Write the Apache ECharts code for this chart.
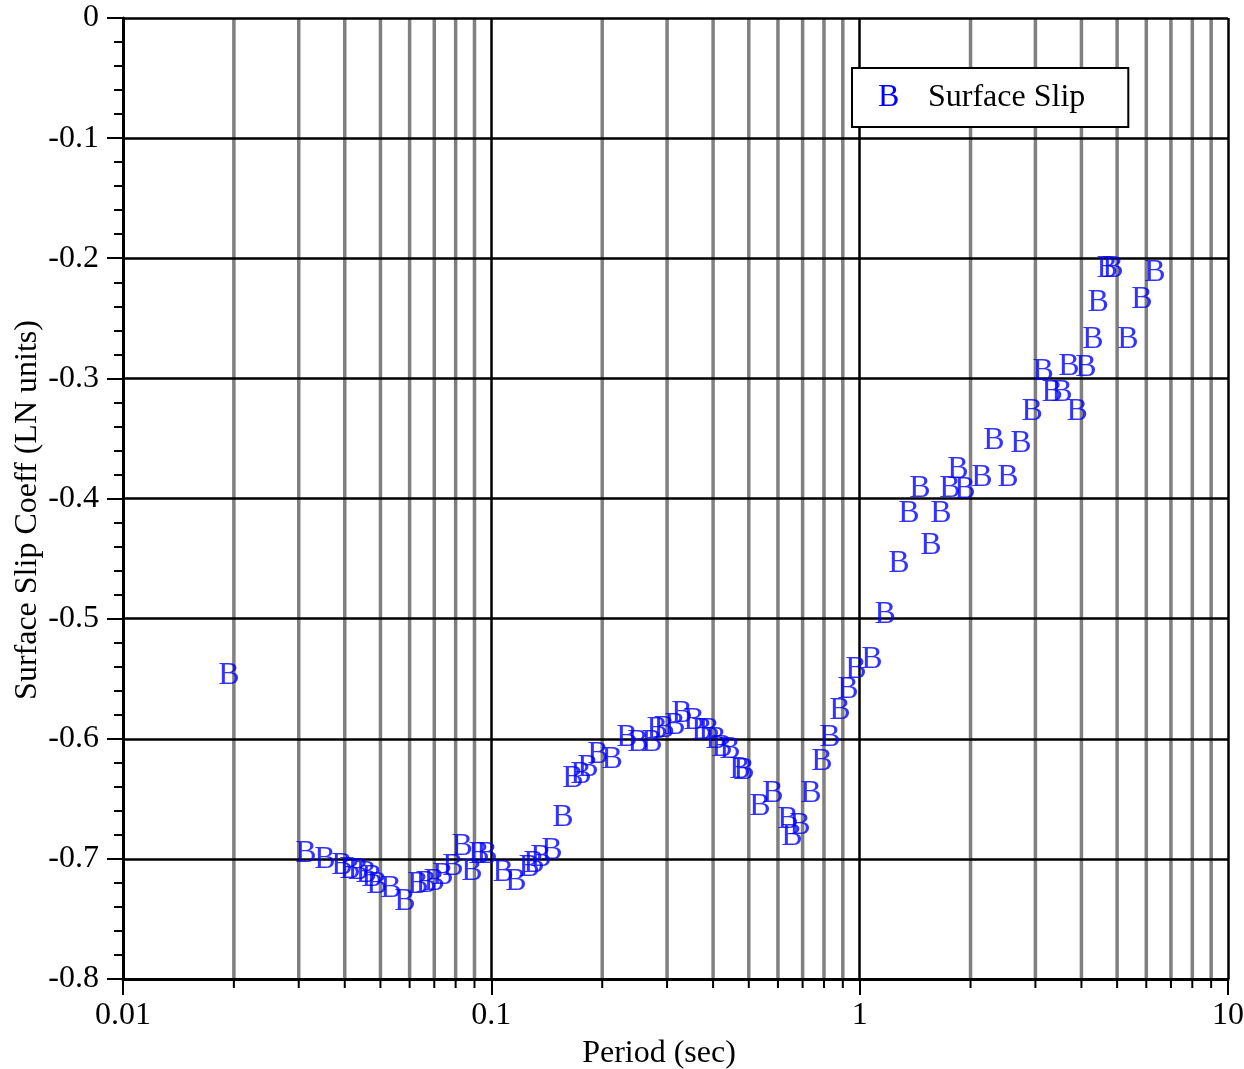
<!DOCTYPE html>
<html>
<head>
<meta charset="utf-8">
<script src="https://cdn.jsdelivr.net/npm/echarts@6/dist/echarts.min.js"></script>
<style>
html,body{margin:0;padding:0;background:#fff;}
#chart{width:1244px;height:1069px;}
</style>
</head>
<body>
<div id="chart"></div>
<script>
// Period (sec)
var periods = [0.0194, 0.0314, 0.03535, 0.0393, 0.0413, 0.0435, 0.0457, 0.0474, 0.0489, 0.0534,
  0.0583, 0.0632, 0.0665, 0.0699, 0.0739, 0.0787, 0.0833, 0.0886, 0.0926, 0.0973,
  0.1076, 0.1167, 0.1266, 0.1306, 0.1364, 0.1461, 0.1565, 0.1666, 0.1752, 0.1830,
  0.1948, 0.2127, 0.2335, 0.2502, 0.2731, 0.2818, 0.2944, 0.3153, 0.3294, 0.3551,
  0.3733, 0.3899, 0.4074, 0.4230, 0.4446, 0.4732, 0.4853, 0.5363, 0.5817, 0.6390,
  0.6552, 0.6887, 0.7379, 0.7902, 0.8307, 0.8842, 0.9298, 0.9774, 1.080, 1.172,
  1.279, 1.361, 1.458, 1.562, 1.663, 1.759, 1.849, 1.932, 2.149, 2.315,
  2.527, 2.742, 2.938, 3.147, 3.329, 3.543, 3.702, 3.892, 4.117, 4.301,
  4.438, 4.695, 4.874, 5.353, 5.843, 6.336];
// Surface Slip Coeff (LN units)
var slipCoeff = [-0.5478, -0.6959, -0.7005, -0.7059, -0.7093, -0.7101, -0.7126, -0.7159, -0.7217, -0.7251,
  -0.7359, -0.7217, -0.7209, -0.7192, -0.7143, -0.7068, -0.6901, -0.7109, -0.6968, -0.6968,
  -0.7118, -0.7192, -0.7076, -0.7043, -0.6993, -0.6934, -0.6660, -0.6335, -0.6302, -0.6243,
  -0.6135, -0.6177, -0.5994, -0.6035, -0.6035, -0.5927, -0.5919, -0.5894, -0.5794, -0.5852,
  -0.5935, -0.5935, -0.6010, -0.6077, -0.6094, -0.6260, -0.6268, -0.6568, -0.6460, -0.6676,
  -0.6818, -0.6726, -0.6460, -0.6193, -0.5994, -0.5765, -0.5594, -0.5428, -0.5344, -0.4970,
  -0.4545, -0.4129, -0.3921, -0.4395, -0.4129, -0.3921, -0.3763, -0.3929, -0.3829, -0.3521,
  -0.3829, -0.3546, -0.3280, -0.2947, -0.3122, -0.3122, -0.2905, -0.3280, -0.2914, -0.2681,
  -0.2373, -0.2089, -0.2089, -0.2681, -0.2348, -0.2123];
// minor log grid positions
var minorX = [0.02, 0.03, 0.04, 0.05, 0.06, 0.07, 0.08, 0.09,
  0.2, 0.3, 0.4, 0.5, 0.6, 0.7, 0.8, 0.9,
  2, 3, 4, 5, 6, 7, 8, 9];
var seriesName = 'Surface Slip';
var xTitle = 'Period (sec)';
var yTitle = 'Surface Slip Coeff (LN units)';

var FONT = "'Liberation Serif','Times New Roman',serif";
var FS = 32;
var chart = echarts.init(document.getElementById('chart'), null, {renderer: 'canvas'});

var scatterData = periods.map(function (p, i) { return [p, slipCoeff[i]]; });
var minorData = minorX.map(function (v) { return [v, 0]; });

chart.setOption({
  animation: false,
  backgroundColor: '#ffffff',
  grid: {left: 123, right: 16, top: 18, bottom: 90, containLabel: false, outerBoundsMode: 'none'},
  legend: {
    data: [seriesName],
    left: 852, top: 68,
    orient: 'horizontal',
    itemWidth: 0, itemHeight: 0, itemGap: 0,
    backgroundColor: '#ffffff',
    borderColor: '#000000', borderWidth: 2, borderRadius: 0,
    padding: [14, 43, 13, 21],
    selectedMode: false,
    formatter: function (n) { return '{b|B}{t|' + n + '}'; },
    textStyle: {
      fontFamily: FONT, fontSize: FS, color: '#000',
      rich: {
        b: {fontFamily: FONT, fontSize: FS, color: '#0000ff', width: 50, lineHeight: 32},
        t: {fontFamily: FONT, fontSize: FS, color: '#000', lineHeight: 32}
      }
    }
  },
  xAxis: {
    type: 'log', logBase: 10, min: 0.01, max: 10,
    name: xTitle, nameLocation: 'middle', nameGap: 59, nameMoveOverlap: false,
    nameTextStyle: {fontFamily: FONT, fontSize: FS, color: '#000', padding: [0, 33, 0, 0]},
    axisLine: {show: true, onZero: false, lineStyle: {color: '#000', width: 3}},
    axisTick: {show: true, inside: false, length: 16, lineStyle: {color: '#000', width: 2}},
    axisLabel: {fontFamily: FONT, fontSize: FS, color: '#000', margin: 21,
      formatter: function (v) { return String(+Number(v).toPrecision(6)); }},
    splitLine: {show: true, lineStyle: {color: '#000', width: 2.5}}
  },
  yAxis: {
    type: 'value', min: -0.8, max: 0, interval: 0.1,
    name: yTitle, nameLocation: 'middle', nameGap: 79, nameMoveOverlap: false,
    nameTextStyle: {fontFamily: FONT, fontSize: FS, color: '#000', padding: [0, 23, 0, 0]},
    axisLine: {show: true, onZero: false, lineStyle: {color: '#000', width: 3}},
    axisTick: {show: true, inside: false, length: 16, lineStyle: {color: '#000', width: 2}},
    minorTick: {show: true, splitNumber: 5, length: 9, lineStyle: {color: '#000', width: 2}},
    axisLabel: {fontFamily: FONT, fontSize: FS, color: '#000', margin: 24},
    splitLine: {show: true, lineStyle: {color: '#000', width: 2.5}}
  },
  series: [
    {
      name: 'minorGrid',
      type: 'custom',
      z: -1,
      silent: true,
      clip: false,
      data: minorData,
      encode: {x: 0, y: 1},
      renderItem: function (params, api) {
        var x = api.value(0);
        var top = api.coord([x, 0]);
        var bot = api.coord([x, -0.8]);
        return {
          type: 'group',
          children: [
            {type: 'line', shape: {x1: top[0], y1: top[1], x2: bot[0], y2: bot[1]},
              style: {stroke: '#808080', lineWidth: 3.5}},
            {type: 'line', shape: {x1: bot[0], y1: bot[1], x2: bot[0], y2: bot[1] + 9},
              style: {stroke: '#000', lineWidth: 2}}
          ]
        };
      }
    },
    {
      name: seriesName,
      type: 'scatter',
      data: scatterData,
      symbol: 'circle',
      symbolSize: 1,
      itemStyle: {color: 'rgba(0,0,255,0)'},
      silent: true,
      label: {
        show: true, formatter: 'B', position: 'inside',
        fontFamily: FONT, fontSize: FS, color: '#0000ff',
        align: 'center', verticalAlign: 'middle'
      },
      emphasis: {disabled: true}
    }
  ]
});
</script>
</body>
</html>
